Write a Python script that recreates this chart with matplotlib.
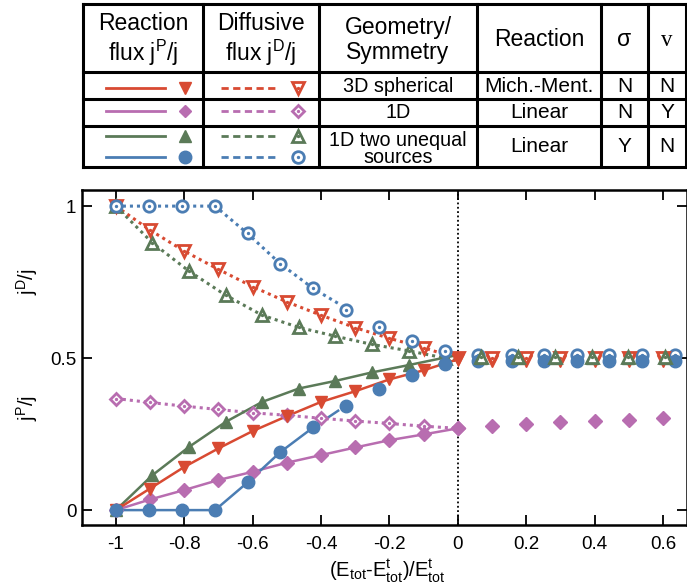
import matplotlib
matplotlib.use('Agg')
import matplotlib.pyplot as plt

plt.rcParams['font.family'] = ['Liberation Sans', 'DejaVu Sans']
plt.rcParams['mathtext.default'] = 'regular'

# ---- data ----
red_x = [-1.0, -0.9, -0.8, -0.7, -0.6, -0.5, -0.4, -0.3, -0.2, -0.1, 0.0]
red_react = [0.0, 0.071, 0.142, 0.203, 0.26, 0.309, 0.356, 0.391, 0.43, 0.46, 0.496]
red_diff = [1.0, 0.921, 0.852, 0.792, 0.735, 0.685, 0.641, 0.60, 0.565, 0.534, 0.499]
red_x_pos = [0.1, 0.2, 0.3, 0.4, 0.5, 0.6]
red_react_pos = [0.491, 0.491, 0.491, 0.491, 0.491, 0.491]
red_diff_pos = [0.50, 0.50, 0.50, 0.50, 0.50, 0.50]

purple_x = [-1.0, -0.9, -0.8, -0.7, -0.6, -0.5, -0.4, -0.3, -0.2, -0.1, 0.0]
purple_react = [0.0, 0.035, 0.066, 0.099, 0.126, 0.156, 0.181, 0.206, 0.23, 0.249, 0.269]
purple_diff = [0.367, 0.354, 0.342, 0.331, 0.32, 0.312, 0.302, 0.293, 0.285, 0.276, 0.269]
purple_x_pos = [0.1, 0.2, 0.3, 0.4, 0.5, 0.6]
purple_react_pos = [0.276, 0.283, 0.289, 0.293, 0.298, 0.302]

green_x = [-1.0, -0.893, -0.786, -0.679, -0.572, -0.465, -0.358, -0.251, -0.144, -0.037]
green_react = [0.0, 0.115, 0.208, 0.29, 0.356, 0.40, 0.425, 0.453, 0.477, 0.502]
green_diff = [1.0, 0.879, 0.786, 0.707, 0.641, 0.601, 0.572, 0.545, 0.524, 0.50]
green_line_x = green_x + [0.0]
green_line_react = green_react + [0.51]
green_line_diff = green_diff + [0.49]
green_x_pos = [0.069, 0.176, 0.284, 0.391, 0.498, 0.605]
green_react_pos = [0.50, 0.50, 0.50, 0.50, 0.50, 0.50]
green_diff_pos = [0.505, 0.505, 0.505, 0.505, 0.505, 0.505]

blue_x = [-1.0, -0.903, -0.808, -0.71, -0.615, -0.52, -0.423, -0.327, -0.231, -0.134, -0.039]
blue_react = [0.0, 0.0, 0.0, 0.0, 0.091, 0.19, 0.272, 0.342, 0.398, 0.446, 0.48]
blue_diff = [1.0, 1.0, 1.0, 1.0, 0.91, 0.811, 0.729, 0.658, 0.601, 0.557, 0.523]
blue_line_x = [-1.0, -0.903, -0.808, -0.71, -0.615, -0.52, -0.423, -0.35]
blue_line_react = [0.0, 0.0, 0.0, 0.0, 0.091, 0.19, 0.272, 0.327]
blue_line_diff = [1.0, 1.0, 1.0, 1.0, 0.91, 0.811, 0.729, 0.68]
blue_x_pos = [0.059, 0.157, 0.252, 0.347, 0.442, 0.537, 0.634]
blue_react_pos = [0.491, 0.491, 0.491, 0.491, 0.491, 0.491, 0.491]
blue_diff_pos = [0.51, 0.51, 0.51, 0.51, 0.51, 0.51, 0.51]

x_ticks = [-1, -0.8, -0.6, -0.4, -0.2, 0, 0.2, 0.4, 0.6]
x_ticklabels = ['-1', '-0.8', '-0.6', '-0.4', '-0.2', '0', '0.2', '0.4', '0.6']
y_ticks = [0, 0.5, 1]
y_ticklabels = ['0', '0.5', '1']

hdr = ['Reaction\nflux j$^P$/j', 'Diffusive\nflux j$^D$/j', 'Geometry/\nSymmetry', 'Reaction', '\u03c3', 'v']
geom = ['3D spherical', '1D', '1D two unequal\nsources']
react = ['Mich.-Ment.', 'Linear', 'Linear']
sigma = ['N', 'N', 'Y']
nu = ['N', 'Y', 'N']

RED = '#d84a32'
PUR = '#b86db0'
GRN = '#5b7a58'
BLU = '#4b7db3'
DOT = (0, (1, 1.3))
LW = 1.8

fig = plt.figure(figsize=(6.87, 5.88), dpi=100)
ax = fig.add_axes([82/687, 1-525/588, (687-82)/687, (525-190)/588])


def solid(x, y, c, m, ms):
   ax.plot(x, y, '-', color=c, lw=LW, zorder=2)
   ax.plot(x, y, m, color=c, ms=ms, ls='none', zorder=3)


def hollow(x, y, c, m, ms, line=True):
   if line:
      ax.plot(x, y, color=c, lw=2.2, ls=DOT, zorder=2)
   ax.plot(x, y, m, ls='none', mfc='white', mec=c, mew=2.0, ms=ms, zorder=3)
   ax.plot(x, y, '.', ls='none', color=c, ms=2.8, zorder=3)


# purple
hollow(purple_x, purple_diff, PUR, 'D', 6.0)
solid(purple_x, purple_react, PUR, 'D', 6.8)
ax.plot(purple_x_pos, purple_react_pos, 'D', ls='none', color=PUR, ms=6.8, zorder=3)

# green
ax.plot(green_line_x, green_line_diff, color=GRN, lw=2.2, ls=DOT, zorder=2)
hollow(green_x, green_diff, GRN, '^', 8.5, line=False)
ax.plot(green_line_x, green_line_react, '-', color=GRN, lw=LW, zorder=2)
ax.plot(green_x, green_react, '^', ls='none', color=GRN, ms=9, zorder=3)

# red
hollow(red_x, red_diff, RED, 'v', 8.5)
solid(red_x, red_react, RED, 'v', 9)

# blue
ax.plot(blue_line_x, blue_line_diff, color=BLU, lw=2.2, ls=DOT, zorder=2)
hollow(blue_x, blue_diff, BLU, 'o', 8.2, line=False)
ax.plot(blue_line_x, blue_line_react, '-', color=BLU, lw=LW, zorder=2)
ax.plot(blue_x, blue_react, 'o', ls='none', color=BLU, ms=9, zorder=3)

# x > 0 region
hollow(blue_x_pos, blue_diff_pos, BLU, 'o', 8.2, line=False)
ax.plot(blue_x_pos, blue_react_pos, 'o', ls='none', color=BLU, ms=9, zorder=3)
ax.plot(red_x_pos, red_react_pos, 'v', ls='none', color=RED, ms=9, zorder=3)
hollow(red_x_pos, red_diff_pos, RED, 'v', 8.5, line=False)
ax.plot(green_x_pos, green_react_pos, '^', ls='none', color=GRN, ms=9, zorder=3)
hollow(green_x_pos, green_diff_pos, GRN, '^', 8.5, line=False)

ax.axvline(0, color='black', lw=1.3, ls=(0, (1, 1.4)), zorder=1)

ax.set_xlim(-1.099, 0.67)
ax.set_ylim(-0.049, 1.053)
ax.set_xticks(x_ticks)
ax.set_xticklabels(x_ticklabels)
ax.set_yticks(y_ticks)
ax.set_yticklabels(y_ticklabels)
ax.tick_params(direction='in', length=7, width=1.3, labelsize=13.5, top=True, right=True)
ax.tick_params(axis='x', pad=8)
ax.tick_params(axis='y', pad=4)
for s in ax.spines.values():
   s.set_linewidth(1.8)

# overlay in pixel coordinates for the table and axis labels
ov = fig.add_axes([0, 0, 1, 1], facecolor='none')
ov.set_xlim(0, 687)
ov.set_ylim(588, 0)
ov.axis('off')

ov.text(27, 282, 'j$^D$/j', rotation=90, ha='center', va='center', fontsize=14.5)
ov.text(27, 408, 'j$^P$/j', rotation=90, ha='center', va='center', fontsize=14.5)
ov.text(387, 570, '(E$_{tot}$-E$^t_{tot}$)/E$^t_{tot}$', ha='center', va='center', fontsize=14.5)

cols = [83, 203, 319, 477, 601, 648, 686]
rows = [3.5, 72, 99, 126, 166.5]
for c in cols:
   ov.plot([c, c], [rows[0], rows[-1]], color='black', lw=2.2, solid_capstyle='projecting')
for r in rows:
   ov.plot([cols[0], cols[-1]], [r, r], color='black', lw=2.2, solid_capstyle='projecting')

centers = [(cols[i] + cols[i+1]) / 2 for i in range(len(cols) - 1)]
for i, h in enumerate(hdr):
   fam = ['Liberation Serif'] if h == 'v' else None
   ov.text(centers[i], 40, h, ha='center', va='center', fontsize=16.5, linespacing=1.15,
           family=fam)
row_y = [86, 112, 147]
for i in range(3):
   gy = row_y[i] + (2 if i == 2 else 0)
   ov.text(centers[2], gy, geom[i], ha='center', va='center', fontsize=14.2, linespacing=0.9)
   ov.text(centers[3], row_y[i], react[i], ha='center', va='center', fontsize=15)
   ov.text(centers[4], row_y[i], sigma[i], ha='center', va='center', fontsize=15)
   ov.text(centers[5], row_y[i], nu[i], ha='center', va='center', fontsize=15)

leg = [(RED, 'v', 87.5), (PUR, 'D', 111), (GRN, '^', 136), (BLU, 'o', 156.5)]
for c, m, yy in leg:
   ms = 6.5 if m == 'D' else 9
   ov.plot([106, 165], [yy, yy], color=c, lw=2)
   ov.plot([185], [yy], m, color=c, ms=ms)
   ov.plot([221, 277], [yy, yy], color=c, lw=2, ls=(0, (2.6, 1.6)))
   ov.plot([298], [yy], m, mfc='white', mec=c, mew=2.0, ms=ms - 0.6)
   ov.plot([298], [yy], '.', color=c, ms=2.8)

plt.savefig('out.png', dpi=100)
